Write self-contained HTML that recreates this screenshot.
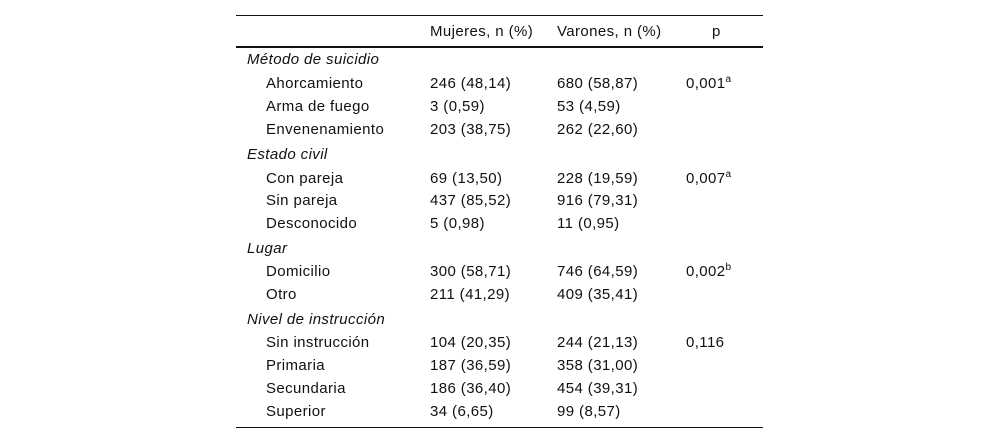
<!DOCTYPE html>
<html><head><meta charset="utf-8"><style>
body{margin:0;width:1000px;height:444px;background:#fff;position:relative;font-family:"Liberation Sans",sans-serif;font-size:15px;letter-spacing:0.4px;color:#111;}
.r{position:absolute;height:18px;line-height:18px;white-space:nowrap;}
.line{position:absolute;left:236px;width:527px;background:#111;}
i{font-style:italic}
sup{font-size:10px;line-height:0;vertical-align:6px;letter-spacing:0}
</style></head><body>
<div class="line" style="top:15px;height:1px"></div>
<div class="line" style="top:46px;height:2px"></div>
<div class="line" style="top:427px;height:1px"></div>
<div>
<div class="r" style="top:23px;left:430px">Mujeres, n (%)</div>
<div class="r" style="top:23px;left:557px">Varones, n (%)</div>
<div class="r" style="top:23px;left:712px">p</div>
</div>
<div id="body"></div>
<script>
const rows=[
["s","Método de suicidio",59],
["d","Ahorcamiento",83,"246 (48,14)","680 (58,87)","0,001","a"],
["d","Arma de fuego",106,"3 (0,59)","53 (4,59)"],
["d","Envenenamiento",129,"203 (38,75)","262 (22,60)"],
["s","Estado civil",154],
["d","Con pareja",178,"69 (13,50)","228 (19,59)","0,007","a"],
["d","Sin pareja",200,"437 (85,52)","916 (79,31)"],
["d","Desconocido",223,"5 (0,98)","11 (0,95)"],
["s","Lugar",248],
["d","Domicilio",271,"300 (58,71)","746 (64,59)","0,002","b"],
["d","Otro",294,"211 (41,29)","409 (35,41)"],
["s","Nivel de instrucción",319],
["d","Sin instrucción",342,"104 (20,35)","244 (21,13)","0,116",""],
["d","Primaria",365,"187 (36,59)","358 (31,00)"],
["d","Secundaria",388,"186 (36,40)","454 (39,31)"],
["d","Superior",411,"34 (6,65)","99 (8,57)"]
];
const b=document.getElementById('body');
function cell(txt,x,y,name,html){const d=document.createElement('div');d.className='r';d.style.left=x+'px';d.style.top=(y-8)+'px';if(html)d.innerHTML=txt;else d.textContent=txt;


b.appendChild(d);}
rows.forEach(r=>{
 if(r[0]==="s"){cell('<i>'+r[1]+'</i>',247,r[2],'section-label',true);}
 else{cell(r[1],266,r[2],'row-label');cell(r[3],430,r[2],'mujeres-value');cell(r[4],557,r[2],'varones-value');
 if(r[5])cell(r[5]+(r[6]?'<sup>'+r[6]+'</sup>':''),686,r[2],'p-value',true);}
});
</script>
</body></html>
